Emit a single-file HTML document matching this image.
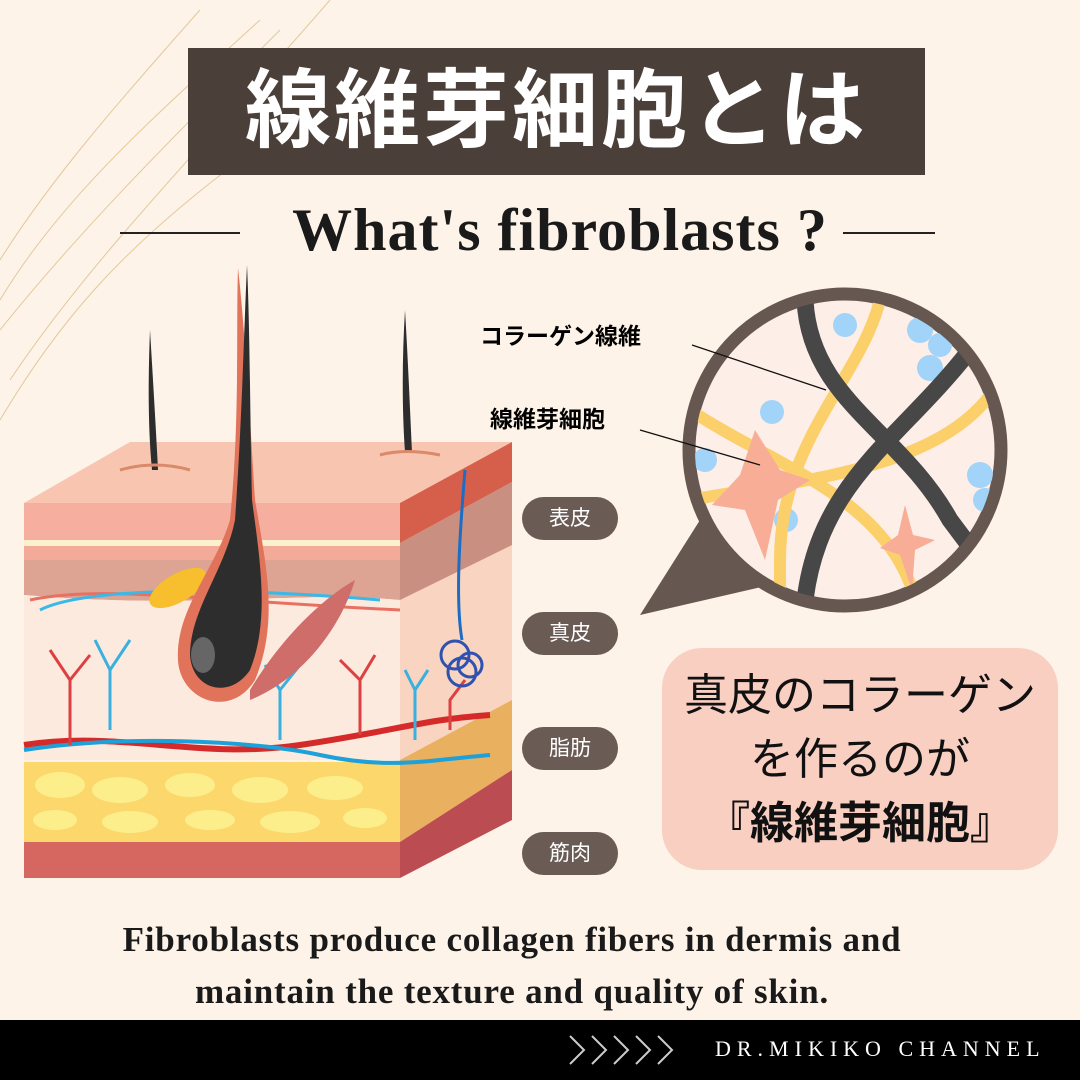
<!DOCTYPE html>
<html><head><meta charset="utf-8"><style>
body{margin:0;width:1080px;height:1080px;overflow:hidden;background:#fdf3e8;font-family:"Liberation Sans","Noto Sans CJK JP",sans-serif;position:relative}
.abs{position:absolute}
.title{left:188px;top:48px;width:737px;height:127px;background:#4b3f3a;color:#fff;font-size:86px;font-weight:bold;text-align:center;line-height:127px;letter-spacing:3px}
.sub{left:0;width:1120px;top:196px;text-align:center;font-family:"Liberation Serif",serif;font-weight:bold;font-size:60px;letter-spacing:1px;color:#1a1a1a}
.pill{left:522px;width:96px;height:43px;border-radius:22px;background:#6b5b55;color:#fff;font-size:21px;text-align:center;line-height:43px}
.pink{left:662px;top:648px;width:396px;height:222px;border-radius:40px;background:#f9cfc2;text-align:center;font-size:44px;line-height:64px;padding-top:16px;box-sizing:border-box;color:#111}
.bt{left:-28px;width:1080px;text-align:center;font-family:"Liberation Serif",serif;font-weight:bold;font-size:35px;letter-spacing:0.8px;color:#1a1a1a;line-height:52px;top:914px}
.foot{left:0;top:1020px;width:1080px;height:60px;background:#000}
</style></head><body>
<svg class="abs" style="left:0;top:0" width="1080" height="1080">
<g stroke="#d9b77a" fill="none" stroke-width="1" opacity="0.7">
<path d="M0 300 C60 200 150 120 260 20"/><path d="M0 330 C80 230 170 140 280 30"/><path d="M10 380 C90 260 200 150 330 0"/><path d="M0 260 C50 180 120 100 200 10"/><path d="M0 420 C60 320 120 250 240 160"/>
</g>
<line x1="120" y1="233" x2="240" y2="233" stroke="#222" stroke-width="2"/>
<line x1="843" y1="233" x2="935" y2="233" stroke="#222" stroke-width="2"/>
<polygon points="24,503 400,503 512,442 130,442" fill="#f8c6b0"/>
<rect x="24" y="503" width="376" height="37" fill="#f6ae9e"/>
<rect x="24" y="540" width="376" height="6" fill="#fdf0cf"/>
<rect x="24" y="546" width="376" height="14" fill="#f4aa98"/>
<path d="M24 560 H400 V600 C300 590 200 610 24 595 Z" fill="#dda393"/>
<path d="M24 595 C200 610 300 590 400 600 V760 H24Z" fill="#fdeadf"/>
<rect x="24" y="762" width="376" height="80" fill="#fbd76c"/>
<g fill="#fdee8c"><ellipse cx="60" cy="785" rx="25" ry="13"/><ellipse cx="120" cy="790" rx="28" ry="13"/><ellipse cx="190" cy="785" rx="25" ry="12"/><ellipse cx="260" cy="790" rx="28" ry="13"/><ellipse cx="335" cy="788" rx="28" ry="12"/><ellipse cx="55" cy="820" rx="22" ry="10"/><ellipse cx="130" cy="822" rx="28" ry="11"/><ellipse cx="210" cy="820" rx="25" ry="10"/><ellipse cx="290" cy="822" rx="30" ry="11"/><ellipse cx="365" cy="818" rx="22" ry="10"/></g>
<rect x="24" y="842" width="376" height="36" fill="#d56760"/>
<polygon points="400,503 512,442 512,820 400,878" fill="#f9d4c0"/>
<polygon points="400,503 512,442 512,482 400,543" fill="#d65f4c"/>
<polygon points="400,543 512,482 512,545 400,600" fill="#c98f80"/>
<polygon points="400,760 512,700 512,770 400,842" fill="#e9b060"/>
<polygon points="400,842 512,770 512,820 400,878" fill="#bb4c52"/>
<path d="M24 745 C120 730 200 760 300 745 S420 720 490 715" stroke="#d52a2a" stroke-width="6" fill="none"/>
<path d="M24 750 C120 735 250 740 320 755 S430 760 490 755" stroke="#1ea0d8" stroke-width="4" fill="none"/>
<path d="M30 600 C100 585 200 600 400 610" stroke="#e87060" stroke-width="3" fill="none"/>
<path d="M40 610 C80 590 200 585 380 600" stroke="#3ab8e8" stroke-width="3" fill="none"/>
<g stroke="#39b0e0" stroke-width="3" fill="none"><path d="M110 730 V670 L95 640 M110 670 L130 640"/><path d="M280 740 V690 L265 665 M280 690 L300 665"/><path d="M415 740 V690 L405 670 M415 690 L428 670"/></g>
<g stroke="#dd4040" stroke-width="3" fill="none"><path d="M70 745 V680 L50 650 M70 680 L90 655"/><path d="M360 735 V680 L340 660 M360 680 L375 655"/><path d="M450 730 V700 L465 680"/></g>
<path d="M465 470 C460 530 455 600 462 640" stroke="#1b6ec4" stroke-width="3" fill="none"/>
<g stroke="#2f52b0" stroke-width="3" fill="none"><circle cx="455" cy="655" r="14"/><circle cx="470" cy="665" r="12"/><circle cx="462" cy="672" r="14"/></g>
<path d="M250 690 C280 640 320 600 355 580 C340 630 300 680 250 700Z" fill="#cf6d6b"/>
<ellipse cx="178" cy="588" rx="32" ry="14" fill="#f7be2e" transform="rotate(-30 178 588)"/>
<path d="M238 268 C245 330 250 420 255 500 C265 560 280 620 255 680 C230 720 180 700 178 660 C175 610 215 570 230 520 C240 420 236 330 238 268Z" fill="#e0735a"/>
<path d="M247 265 C250 330 250 420 252 500 C260 560 270 620 250 670 C230 700 192 690 190 655 C190 610 225 570 235 520 C242 420 244 330 247 265Z" fill="#2d2d2d"/>
<ellipse cx="203" cy="655" rx="12" ry="18" fill="#666"/>
<path d="M150 330 C148 380 148 430 152 470 L158 470 C156 430 153 380 150 330Z" fill="#2d2d2d"/>
<path d="M405 310 C402 360 402 410 405 452 L412 452 C410 410 408 360 405 310Z" fill="#2d2d2d"/>
<path d="M120 470 Q155 460 190 470 M380 455 Q405 448 440 455" stroke="#d88a6a" stroke-width="3" fill="none"/>
<polygon points="640,615 700,520 770,585" fill="#675751"/>
<circle cx="845" cy="450" r="156" fill="#fdeee8" stroke="#675751" stroke-width="13"/>
<clipPath id="c"><circle cx="845" cy="450" r="150"/></clipPath>
<g clip-path="url(#c)">
<g fill="#a2d3f8"><circle cx="845" cy="325" r="12"/><circle cx="920" cy="330" r="13"/><circle cx="940" cy="345" r="12"/><circle cx="930" cy="368" r="13"/><circle cx="772" cy="412" r="12"/><circle cx="705" cy="460" r="12"/><circle cx="786" cy="520" r="12"/><circle cx="980" cy="475" r="13"/><circle cx="985" cy="500" r="12"/></g>
<g stroke="#fbcf6a" stroke-width="12" fill="none"><path d="M880 300 C860 380 780 440 780 560 V620"/><path d="M690 410 C780 470 900 500 920 620"/><path d="M690 500 C800 480 950 470 1000 380"/></g>
<g stroke="#474747" stroke-width="17" fill="none" stroke-linecap="round"><path d="M805 300 C810 400 900 430 950 520 L980 560"/><path d="M970 350 C900 440 820 480 805 600"/></g>
<path d="M755 430 L780 470 L810 480 L778 500 L765 560 L745 510 L712 505 L740 475Z" fill="#f7ad96"/>
<path d="M905 505 L913 535 L935 540 L915 550 L912 590 L900 555 L880 548 L898 535Z" fill="#f7ad96"/>
</g>
<line x1="692" y1="345" x2="826" y2="390" stroke="#111" stroke-width="1.3"/>
<line x1="640" y1="430" x2="760" y2="465" stroke="#111" stroke-width="1.3"/>
</svg>
<div class="abs title">線維芽細胞とは</div>
<div class="abs sub">What's fibroblasts ?</div>
<div class="abs" style="left:480px;top:317px;font-size:23px;font-weight:bold">コラーゲン線維</div>
<div class="abs" style="left:490px;top:400px;font-size:23px;font-weight:bold">線維芽細胞</div>
<div class="abs pill" style="top:497px">表皮</div>
<div class="abs pill" style="top:612px">真皮</div>
<div class="abs pill" style="top:727px">脂肪</div>
<div class="abs pill" style="top:832px">筋肉</div>
<div class="abs pink">真皮のコラーゲン<br>を作るのが<br><b>『線維芽細胞』</b></div>
<div class="abs bt">Fibroblasts produce collagen fibers in dermis and<br>maintain the texture and quality of skin.</div>
<div class="abs foot"></div>
<svg class="abs" style="left:560px;top:1030px" width="130" height="40"><path d="M10 6 L24 20 L10 34 M32 6 L46 20 L32 34 M54 6 L68 20 L54 34 M76 6 L90 20 L76 34 M98 6 L112 20 L98 34" stroke="#ccc" stroke-width="2" fill="none"/></svg>
<div class="abs" style="left:715px;top:1036px;color:#fff;font-family:'Liberation Serif',serif;font-size:22px;letter-spacing:6px">DR.MIKIKO CHANNEL</div>
</body></html>
